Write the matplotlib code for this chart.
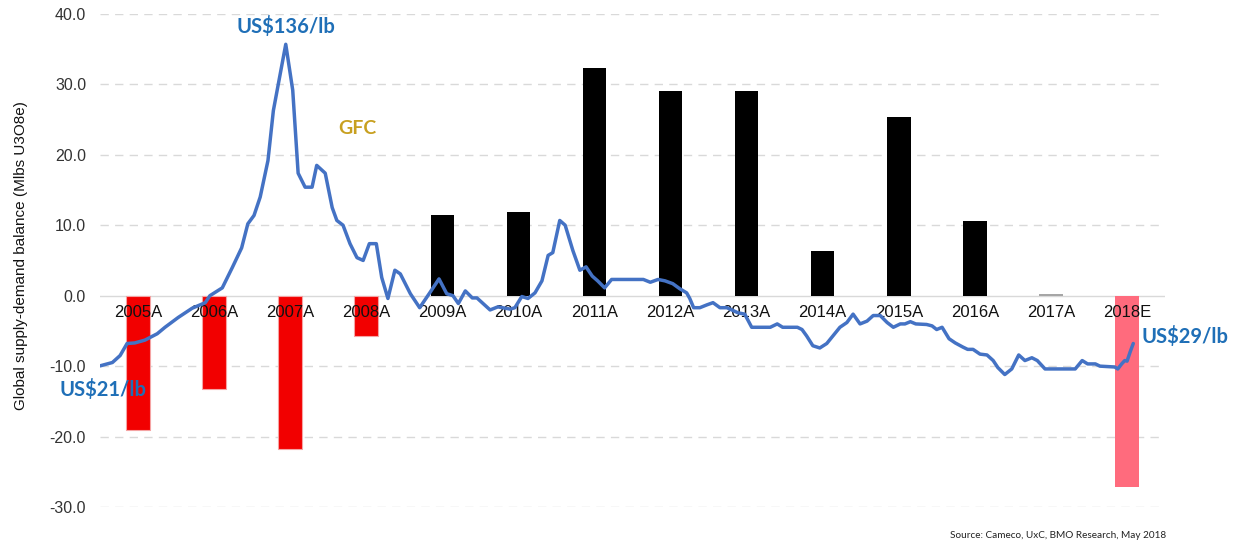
import matplotlib
matplotlib.use("Agg")
import matplotlib.pyplot as plt

# Annual global supply-demand balance (Mlbs U3O8e)
categories = ['2005A', '2006A', '2007A', '2008A', '2009A', '2010A', '2011A',
              '2012A', '2013A', '2014A', '2015A', '2016A', '2017A', '2018E']
balance = [-19.0, -13.3, -21.8, -5.7, 11.4, 11.9, 32.3,
           29.0, 29.1, 6.3, 25.4, 10.6, 0.3, -27.2]
bar_colors = ['#F20000'] * 4 + ['#000000'] * 8 + ['#A6A6A6', '#FF6B7D']

# Uranium spot price (US$/lb), decimal year
price_time = [2005.00, 2005.16, 2005.26, 2005.35, 2005.45, 2005.58, 2005.74, 2005.84,
              2006.01, 2006.19, 2006.36, 2006.42, 2006.58, 2006.71, 2006.83, 2006.91,
              2006.99, 2007.07, 2007.17, 2007.24, 2007.40, 2007.49, 2007.56, 2007.65,
              2007.74, 2007.80, 2007.91, 2008.00, 2008.06, 2008.14, 2008.23, 2008.32,
              2008.40, 2008.48, 2008.57, 2008.64, 2008.72, 2008.81, 2008.88, 2009.01,
              2009.13, 2009.26, 2009.38, 2009.48, 2009.56, 2009.63, 2009.72, 2009.81,
              2009.87, 2009.95, 2010.04, 2010.14, 2010.30, 2010.36, 2010.45, 2010.53,
              2010.62, 2010.71, 2010.79, 2010.85, 2010.94, 2011.01, 2011.11, 2011.20,
              2011.28, 2011.36, 2011.43, 2011.52, 2011.61, 2012.02, 2012.11, 2012.21,
              2012.30, 2012.40, 2012.49, 2012.58, 2012.62, 2012.67, 2012.75, 2012.84,
              2012.92, 2013.01, 2013.10, 2013.24, 2013.33, 2013.42, 2013.66, 2013.75,
              2013.82, 2014.01, 2014.07, 2014.13, 2014.21, 2014.30, 2014.39, 2014.47,
              2014.56, 2014.65, 2014.73, 2014.82, 2014.91, 2014.99, 2015.08, 2015.17,
              2015.25, 2015.34, 2015.40, 2015.47, 2015.54, 2015.68, 2015.75, 2015.81,
              2015.88, 2015.97, 2016.05, 2016.15, 2016.21, 2016.28, 2016.37, 2016.46,
              2016.54, 2016.60, 2016.69, 2016.78, 2016.87, 2016.95, 2017.04, 2017.11,
              2017.21, 2017.60, 2017.69, 2017.76, 2017.86, 2017.92, 2018.11, 2018.15,
              2018.20, 2018.24, 2018.27, 2018.31, 2018.35]
price_usd = [21.0, 22.2, 24.7, 29.0, 29.2, 30.2, 32.5, 34.8,
             38.3, 41.6, 43.6, 46.1, 48.9, 56.2, 63.2, 71.8,
             74.8, 81.4, 94.4, 112.3, 136.0, 119.6, 89.9, 84.9,
             84.9, 92.7, 89.9, 77.6, 73.0, 71.3, 64.7, 59.7,
             58.7, 64.7, 64.7, 52.6, 45.1, 55.2, 53.9, 46.8,
             41.8, 47.1, 52.1, 46.8, 46.1, 43.3, 47.8, 45.3,
             45.3, 43.3, 41.0, 42.1, 41.3, 41.8, 45.8, 45.1,
             47.1, 51.4, 60.5, 61.5, 73.0, 71.3, 62.2, 55.2,
             56.4, 53.1, 51.4, 48.9, 51.9, 51.9, 50.9, 51.9,
             51.4, 50.4, 48.6, 47.1, 45.1, 41.8, 41.8, 42.8,
             43.6, 41.8, 41.8, 40.0, 39.5, 34.8, 34.8, 36.0,
             34.8, 34.8, 34.0, 31.7, 28.2, 27.4, 29.0, 31.7,
             34.8, 36.5, 39.5, 36.0, 37.0, 39.0, 39.0, 36.5,
             34.8, 36.0, 36.0, 36.8, 36.0, 35.8, 35.3, 34.0,
             34.8, 30.7, 29.2, 27.7, 26.9, 26.9, 25.2, 24.9,
             22.9, 20.4, 17.9, 19.9, 24.9, 22.9, 23.9, 22.9,
             19.9, 19.9, 22.9, 21.7, 21.7, 20.9, 20.6, 19.9,
             21.7, 22.9, 22.7, 26.0, 29.0]

yticks = [-30, -20, -10, 0, 10, 20, 30, 40]

W, H = 1238, 544
fig = plt.figure(figsize=(W / 100, H / 100), dpi=100)
rect = [100 / W, 1 - 507 / H, 1065 / W, 493 / H]
ax = fig.add_axes(rect)

sans = ['Liberation Sans', 'DejaVu Sans']
bold = ['Lato', 'DejaVu Sans']

x = list(range(len(categories)))
ax.bar(x, balance, width=0.31, color=bar_colors, zorder=2,
       edgecolor=['#F5A3A3'] * 4 + ['none'] * 10, linewidth=0.8)

# gridlines
for v in yticks:
    if v == 0:
        ax.axhline(v, color='#D9D9D9', lw=1.0, zorder=1)
    else:
        ax.axhline(v, color='#D9D9D9', lw=1.0, ls=(0, (6, 4.5)), zorder=1)

ax.set_xlim(-0.5, len(categories) - 0.5)
ax.set_ylim(-30, 40)
ax.set_axisbelow(False)
for s in ax.spines.values():
    s.set_visible(False)
ax.spines['bottom'].set_position(('data', 0))

ax.set_xticks(x)
ax.set_xticklabels(categories, fontsize=12, family=sans, color='#111111')
ax.tick_params(axis='x', length=0, pad=7)
ax.set_yticks(yticks)
ax.set_yticklabels([f'{v:.1f}' for v in yticks], fontsize=11.5, family=sans,
                   color='#333333')
ax.tick_params(axis='y', length=0, pad=10)
ax.set_ylabel('Global supply-demand balance (Mlbs U3O8e)', fontsize=11,
              family=sans, color='#111111')
ax.yaxis.set_label_coords(-0.068, 0.51)

ax.text(2.88, 23.75, 'GFC', color='#C8A020', fontsize=14, fontweight='bold',
        family=bold, ha='center', va='center', zorder=5)

# price overlay
ax2 = fig.add_axes(rect, frameon=False, zorder=3)
ax2.patch.set_visible(False)
ax2.plot(price_time, price_usd, color='#4472C4', lw=2.5, solid_joinstyle='round',
         solid_capstyle='round')
ax2.set_xlim(2005.0, 2018.76)
ax2.set_ylim(-29.47, 146.83)
ax2.axis('off')

blue = '#1F6FB7'
lab = dict(textcoords='offset points', color=blue, fontsize=14.5,
           fontweight='bold', family=bold, va='center', annotation_clip=False)
ax2.annotate('US$136/lb', xy=(price_time[20], price_usd[20]), xytext=(0, 13),
             ha='center', **lab)
ax2.annotate('US$21/lb', xy=(price_time[0], price_usd[0]), xytext=(2, -17),
             ha='center', **lab)
ax2.annotate('US$29/lb', xy=(price_time[-1], price_usd[-1]), xytext=(6, 5),
             ha='left', **lab)

fig.text(1058 / W, 1 - 536 / H, 'Source: Cameco, UxC, BMO Research, May 2018',
         fontsize=7.2, family=bold, color='#222222', ha='center', va='center')

fig.savefig('out.png', dpi=100)
